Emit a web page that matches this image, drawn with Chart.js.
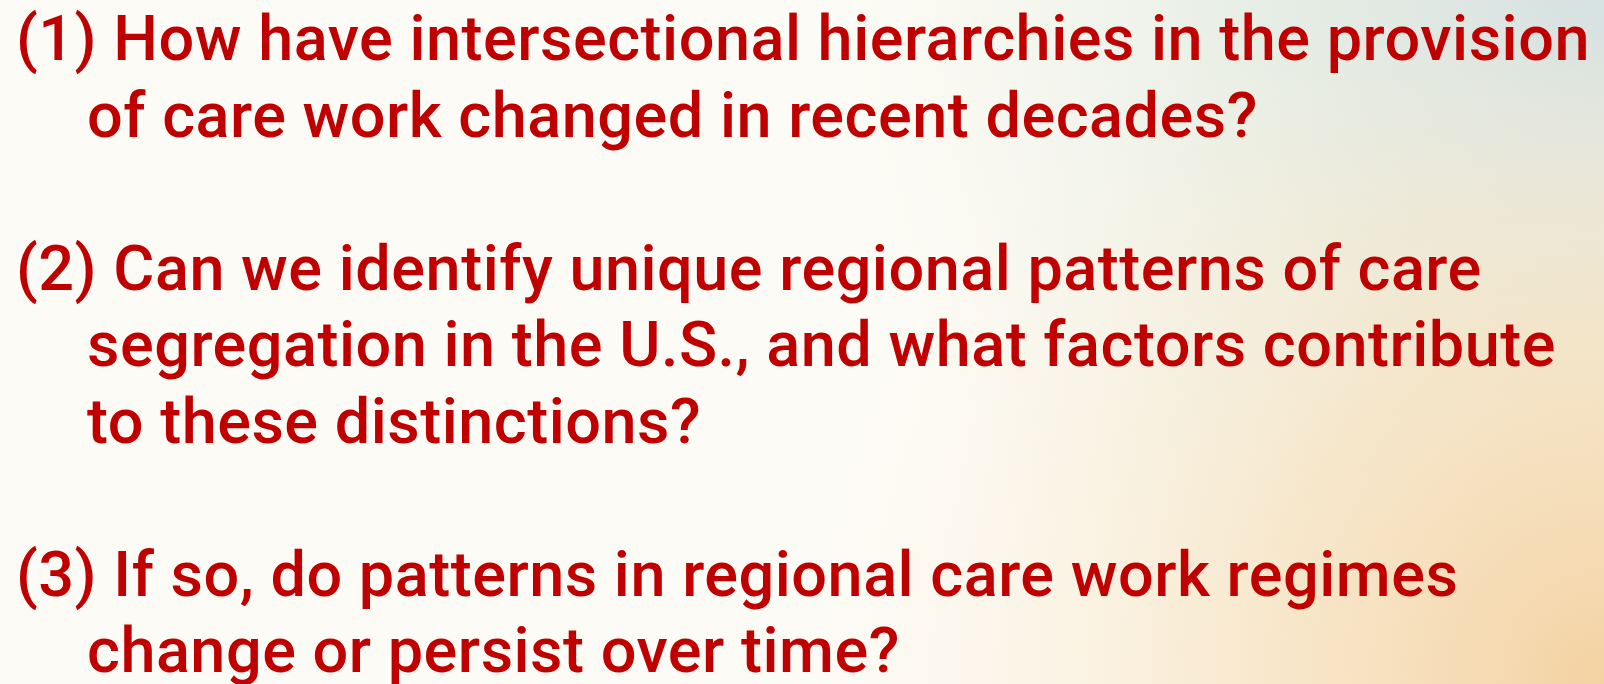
<!DOCTYPE html>
<html>
<head>
<meta charset="utf-8">
<script src="https://cdn.jsdelivr.net/npm/chart.js@4.4.0/dist/chart.umd.min.js"></script>
<style>
  html, body { margin: 0; padding: 0; width: 1604px; height: 684px; overflow: hidden; }
  #wrap { position: relative; width: 1604px; height: 684px; }
  #bg { position: absolute; left: 0; top: 0; }
  .line {
    position: absolute;
    white-space: pre;
    font-family: Roboto, 'Noto Sans', sans-serif;
    font-weight: 500;
    font-size: 63px;
    letter-spacing: 0.5px;
    line-height: 1;
    color: #c00000;
  }
</style>
</head>
<body>
<div id="wrap">
  <canvas id="bg" width="1604" height="684"></canvas>
  <div id="text"></div>
</div>
<script>
// Contenido de la diapositiva
const numbers = ['(1)', '(2)', '(3)'];
const firstLines = [
    'How have intersectional hierarchies in the provision',
    'Can we identify unique regional patterns of care',
    'If so, do patterns in regional care work regimes'
];
const moreLines = [
    ['of care work changed in recent decades?'],
    ['segregation in the U.S., and what factors contribute', 'to these distinctions?'],
    ['change or persist over time?']
];

const LINE_STEP = 76.5;
const BASELINE_0 = 57;
const NUM_X = 16;
const INDENT_X = 87;

function buildText() {
    const box = document.getElementById('text');
    let row = 0;
    numbers.forEach((num, i) => {
        const first = document.createElement('div');
        first.className = 'line';
        first.textContent = num + ' ' + firstLines[i];
        first.style.left = NUM_X + 'px';
        first.style.top = (BASELINE_0 + row * LINE_STEP - 50) + 'px';
        box.appendChild(first);
        row++;
        moreLines[i].forEach(txt => {
            const d = document.createElement('div');
            d.className = 'line';
            d.textContent = txt;
            d.style.left = INDENT_X + 'px';
            d.style.top = (BASELINE_0 + row * LINE_STEP - 50) + 'px';
            box.appendChild(d);
            row++;
        });
        row++; // línea en blanco entre preguntas
    });
}

// Fondo suave dibujado por un plugin de Chart.js
const softBackground = {
    id: 'softBackground',
    beforeDraw(chart) {
        const ctx = chart.ctx;
        const w = chart.width, h = chart.height;
        ctx.save();
        ctx.fillStyle = '#fdfbf5';
        ctx.fillRect(0, 0, w, h);
        let g = ctx.createRadialGradient(w * 1.0, 0, 0, w * 1.0, 0, 800);
        g.addColorStop(0, 'rgba(205,222,228,1)');
        g.addColorStop(0.45, 'rgba(224,234,224,0.75)');
        g.addColorStop(1, 'rgba(242,245,234,0)');
        ctx.fillStyle = g;
        ctx.fillRect(0, 0, w, h);
        g = ctx.createRadialGradient(w * 1.0, h, 0, w * 1.0, h, 780);
        g.addColorStop(0, 'rgba(244,210,162,1)');
        g.addColorStop(0.45, 'rgba(247,226,192,0.75)');
        g.addColorStop(1, 'rgba(250,240,222,0)');
        ctx.fillStyle = g;
        ctx.fillRect(0, 0, w, h);
        ctx.restore();
    }
};

function init() {
    new Chart(document.getElementById('bg'), {
        type: 'line',
        data: { labels: [], datasets: [] },
        options: {
            responsive: false,
            animation: false,
            events: [],
            plugins: { legend: { display: false }, tooltip: { enabled: false } },
            scales: { x: { display: false }, y: { display: false } }
        },
        plugins: [softBackground]
    });
    buildText();
}

document.addEventListener('DOMContentLoaded', init);
</script>
</body>
</html>
